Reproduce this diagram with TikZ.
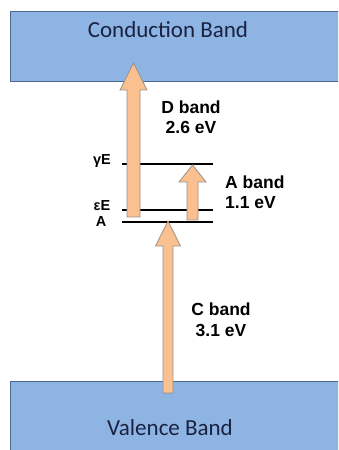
\documentclass[tikz,border=0pt]{standalone}
\usepackage{fontspec}
\setmainfont{Liberation Sans}
\newfontfamily\calib{Carlito}
\definecolor{bandfill}{RGB}{142,180,227}
\definecolor{bandedge}{RGB}{75,105,145}
\definecolor{arrfill}{RGB}{250,192,143}
\definecolor{arredge}{RGB}{155,145,135}
\definecolor{bandtext}{RGB}{25,35,65}
\newcommand\myfatarrow[7]{% name, x, bottom, tip, shaft half, head half, head length
  \coordinate (#1-base) at (#2,#3);
  \coordinate (#1-tip) at (#2,#4);
  \filldraw[arrowsty] (#2-#5,#3) -- (#2-#5,#4-#7) -- (#2-#6,#4-#7) -- (#1-tip)
    -- (#2+#6,#4-#7) -- (#2+#5,#4-#7) -- (#2+#5,#3) -- cycle;}
\begin{document}
\begin{tikzpicture}[x=1pt,y=1pt,
  band/.style={draw=bandedge, line width=1.2pt, fill=bandfill, inner sep=0pt},
  bandlabel/.style={font=\calib\fontsize{23}{25}\selectfont, text=bandtext, inner sep=0pt},
  arrowsty/.style={fill=arrfill, draw=arredge, line width=0.8pt},
  level/.style={line width=2.4pt, black},
  levellabel/.style={font=\bfseries\fontsize{14.5}{16}\selectfont, inner sep=0pt},
  trans/.style={font=\bfseries\fontsize{17.5}{20.5}\selectfont, inner sep=0pt, align=#1},
  trans/.default=center]
\useasboundingbox (0,0) rectangle (338,450);
\clip (0,0) rectangle (338,450);
% bands
\node (cb) [band, anchor=south west, minimum width=340pt, minimum height=70pt] at (10,368) {};
\node (cbt) [bandlabel] at (168,420) {Conduction Band};
\node (vb) [band, anchor=north west, minimum width=340pt, minimum height=90pt] at (10,69) {};
\node (vbt) [bandlabel] at (170,22) {Valence Band};
% levels
\coordinate (g1) at (122,286); \coordinate (g2) at (213,286);
\coordinate (e1) at (122,240); \coordinate (e2) at (213,240);
\coordinate (a1) at (122,228); \coordinate (a2) at (213,228);
\draw[level] (g1) -- (g2);
\draw[level] (e1) -- (e2);
\draw[level] (a1) -- (a2);
\node (gl) [levellabel] at (102,289) {γE};
\node (el) [levellabel, anchor=base] at (102,239) {εE};
\node (al) [levellabel, anchor=north] at (101,234) {A};
% arrows
\myfatarrow{darr}{133.5}{233}{387}{6.5}{13.5}{27}
\myfatarrow{aarr}{192.5}{230}{285}{5.5}{13.5}{17}
\myfatarrow{carr}{168}{57}{229}{5}{12.5}{25}
% transition labels
\node (dl) [trans] at (191,333) {D band\\2.6 eV};
\node (alab) [trans=left, anchor=west] at (225,258) {A band\\1.1 eV};
\node (cl) [trans] at (221,130) {C band\\3.1 eV};
\end{tikzpicture}
\end{document}
